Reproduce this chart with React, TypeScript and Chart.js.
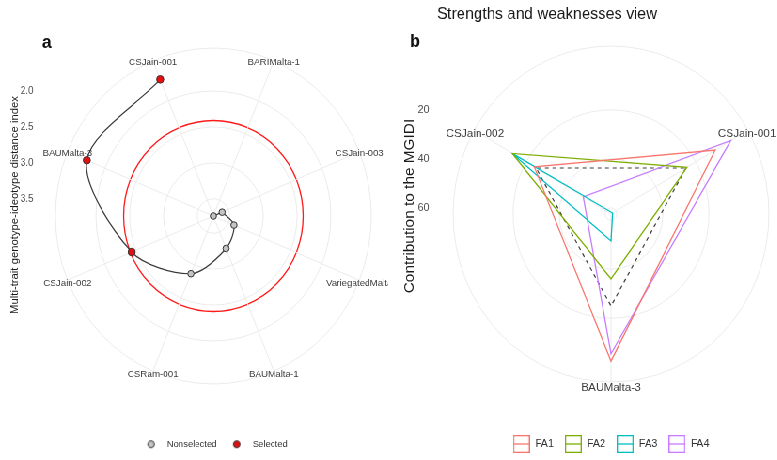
import React, { useEffect, useRef } from 'react';
import { Chart, registerables } from 'chart.js';
Chart.register(...registerables);

// ---------- layout constants ----------
const K = 0.94; // horizontal squeeze of the original figure
const STAGE_W = 827;
const H = 460;
const WA = 413;
const WB = 414;
const FONT = '"Liberation Sans", Arial, sans-serif';

// ---------- panel a data ----------
const genotypesA = ['BARIMalta-1', 'CSJain-003', 'VariegatedMalta', 'BAUMalta-1', 'CSRam-001', 'CSJain-002', 'BAUMalta-3', 'CSJain-001'];
const mgidiValues = [3.74, 3.6, 3.41, 3.25, 2.87, 2.43, 1.71, 1.68];
const selectedGenotypes = ['CSJain-002', 'BAUMalta-3', 'CSJain-001'];
const mgidiCutoff = 2.41;
const mgidiTicks = [2.0, 2.5, 3.0, 3.5];
const mgidiMin = 1.4;
const mgidiMax = 3.74;

// ---------- panel b data ----------
const genotypesB = ['CSJain-001', 'BAUMalta-3', 'CSJain-002'];
const factorNames = ['FA1', 'FA2', 'FA3', 'FA4'];
const fa1 = [10.3, 2.5, 24.1];
const fa2 = [24.5, 36.0, 13.1];
const fa3 = [61.7, 51.5, 13.1];
const fa4 = [2.5, 5.5, 48.6];
const equalContribution = [25, 25, 25];
const contribTicks = [20, 40, 60];
const contribMin = -6;
const contribMax = 62.5;

const factorColors = ['#F8766D', '#7CAE00', '#00BFC4', '#C77CFF'];
const GRID = '#ebebeb';
const SEL = '#e41010';
const NONSEL = '#c4c4c4';
const LINE = '#3a3a3a';

function keyBox(color: string) {
  const c = document.createElement('canvas');
  c.width = 18;
  c.height = 18;
  const g = c.getContext('2d')!;
  g.strokeStyle = color;
  g.lineWidth = 1.3;
  g.strokeRect(0.65, 0.65, 16.7, 16.7);
  g.beginPath();
  g.moveTo(0, 9);
  g.lineTo(18, 9);
  g.stroke();
  return c;
}

function keyDot(fill: string) {
  const c = document.createElement('canvas');
  c.width = 10;
  c.height = 10;
  const g = c.getContext('2d')!;
  g.beginPath();
  g.arc(5, 5, 3.5, 0, Math.PI * 2);
  g.fillStyle = fill;
  g.fill();
  g.strokeStyle = '#333';
  g.lineWidth = 1;
  g.stroke();
  return c;
}

export default function App() {
  const refA = useRef<HTMLCanvasElement>(null);
  const refB = useRef<HTMLCanvasElement>(null);

  useEffect(() => {
    Chart.defaults.font.family = FONT;
    const isSel = genotypesA.map((g) => selectedGenotypes.includes(g));
    const ptFill = isSel.map((s) => (s ? SEL : NONSEL));
    const ptRadius = isSel.map((s) => (s ? 3.8 : 3.3));

    const textA = {
      id: 'textA',
      afterDraw(chart: any) {
        const ctx = chart.ctx;
        const s = chart.scales.r;
        ctx.save();
        ctx.textBaseline = 'middle';
        ctx.textAlign = 'center';
        ctx.fillStyle = '#3d3d3d';
        ctx.font = `9.8px ${FONT}`;
        genotypesA.forEach((g, i) => {
          const p = s.getPointPosition(i, s.drawingArea);
          ctx.fillText(g, p.x, p.y + (p.y > s.yCenter ? 3 : 1.5));
        });
        ctx.textAlign = 'right';
        ctx.font = `10px ${FONT}`;
        ctx.fillStyle = '#4d4d4d';
        mgidiTicks.forEach((v) => {
          ctx.fillText(v.toFixed(1), 35.6, s.yCenter - s.getDistanceFromCenterForValue(v));
        });
        ctx.save();
        ctx.translate(16, 205);
        ctx.rotate(-Math.PI / 2);
        ctx.textAlign = 'center';
        ctx.fillStyle = '#1a1a1a';
        ctx.font = `11.3px ${FONT}`;
        ctx.fillText('Multi-trait genotype-ideotype distance index', 0, 0);
        ctx.restore();
        ctx.textAlign = 'left';
        ctx.fillStyle = '#111';
        ctx.font = `bold 18px ${FONT}`;
        ctx.fillText('a', 44.7, 43);
        ctx.restore();
      },
    };

    const textB = {
      id: 'textB',
      afterDraw(chart: any) {
        const ctx = chart.ctx;
        const s = chart.scales.r;
        ctx.save();
        ctx.textBaseline = 'middle';
        ctx.textAlign = 'center';
        ctx.fillStyle = '#3d3d3d';
        ctx.font = `11.8px ${FONT}`;
        genotypesB.forEach((g, i) => {
          const p = s.getPointPosition(i, 167);
          ctx.fillText(g, p.x, p.y + (p.y > s.yCenter ? 6.5 : 3));
        });
        ctx.textAlign = 'right';
        ctx.font = `11px ${FONT}`;
        ctx.fillStyle = '#4d4d4d';
        contribTicks.forEach((v) => {
          ctx.fillText(String(v), 43.7, s.yCenter - s.getDistanceFromCenterForValue(v));
        });
        ctx.save();
        ctx.translate(23.2, 206);
        ctx.rotate(-Math.PI / 2);
        ctx.textAlign = 'center';
        ctx.fillStyle = '#1a1a1a';
        ctx.font = `15.4px ${FONT}`;
        ctx.fillText('Contribution to the MGIDI', 0, 0);
        ctx.restore();
        ctx.textAlign = 'left';
        ctx.fillStyle = '#1a1a1a';
        ctx.font = `16.4px ${FONT}`;
        ctx.fillText('Strengths and weaknesses view', 51.9, 14);
        ctx.fillStyle = '#111';
        ctx.font = `bold 18px ${FONT}`;
        ctx.fillText('b', 23, 42);
        ctx.restore();
      },
    };

    const chartA = new Chart(refA.current!, {
      type: 'radar',
      data: {
        labels: genotypesA,
        datasets: [
          {
            label: 'MGIDI',
            data: mgidiValues.map((v, i) => (i === 0 ? null : v)),
            borderColor: LINE,
            borderWidth: 1.2,
            tension: 0.3,
            fill: false,
            spanGaps: false,
            pointBackgroundColor: ptFill,
            pointBorderColor: '#333',
            pointBorderWidth: 1,
            pointRadius: ptRadius,
          } as any,
          {
            label: 'MGIDI (centre)',
            data: mgidiValues.map((v, i) => (i <= 1 ? v : null)),
            borderColor: LINE,
            borderWidth: 1.2,
            fill: false,
            spanGaps: false,
            pointBackgroundColor: ptFill,
            pointBorderColor: '#333',
            pointBorderWidth: 1,
            pointRadius: mgidiValues.map((v, i) => (i === 0 ? ptRadius[0] : 0)),
          } as any,
        ],
      },
      options: {
        responsive: false,
        animation: false,
        devicePixelRatio: 1,
        events: [],
        layout: { padding: { left: 58.6, right: 17.4, top: 3, bottom: 1 } },
        plugins: {
          title: { display: false },
          tooltip: { enabled: false },
          legend: {
            position: 'bottom',
            labels: {
              usePointStyle: true,
              pointStyleWidth: 24.5,
              padding: 9,
              color: '#333',
              font: { size: 9.5 },
              generateLabels: () => [
                { text: 'Nonselected', pointStyle: keyDot(NONSEL), fontColor: '#333', lineWidth: 0, hidden: false, datasetIndex: 0 } as any,
                { text: 'Selected', pointStyle: keyDot(SEL), fontColor: '#333', lineWidth: 0, hidden: false, datasetIndex: 0 } as any,
              ],
            },
          },
        },
        scales: {
          r: {
            min: mgidiMin,
            max: mgidiMax,
            reverse: true,
            startAngle: 22.5,
            ticks: { display: false },
            pointLabels: { display: false },
            grid: {
              circular: true,
              color: (c: any) => (c.tick && c.tick.value === mgidiCutoff ? '#ff1a1a' : GRID),
              lineWidth: (c: any) => (c.tick && c.tick.value === mgidiCutoff ? 1.3 : 1),
            },
            angleLines: { color: GRID, lineWidth: 1 },
            afterBuildTicks: (s: any) => {
              s.ticks = [mgidiMax, mgidiMin, ...mgidiTicks, mgidiCutoff].map((v) => ({ value: v }));
            },
          } as any,
        },
      },
      plugins: [textA],
    });

    const boxes = factorColors.map(keyBox);
    const chartB = new Chart(refB.current!, {
      type: 'radar',
      data: {
        labels: genotypesB,
        datasets: [
          ...[fa1, fa2, fa3, fa4].map((d, k) => ({
            label: factorNames[k],
            data: d,
            borderColor: factorColors[k],
            borderWidth: 1.3,
            fill: false,
            pointRadius: 0,
            tension: 0,
          })),
          {
            label: 'Equal contribution',
            data: equalContribution,
            borderColor: '#3c3c3c',
            borderDash: [4, 4],
            borderWidth: 1.2,
            fill: false,
            pointRadius: 0,
          },
        ],
      },
      options: {
        responsive: false,
        animation: false,
        devicePixelRatio: 1,
        events: [],
        layout: { padding: { left: 68.5, right: 8.5, top: 3, bottom: 0.5 } },
        plugins: {
          title: { display: false },
          tooltip: { enabled: false },
          legend: {
            position: 'bottom',
            labels: {
              usePointStyle: true,
              pointStyleWidth: 18.5,
              padding: 11.6,
              color: '#333',
              font: { size: 11 },
              generateLabels: () =>
                factorNames.map((n, k) => ({ text: n, pointStyle: boxes[k], fontColor: '#333', lineWidth: 0, hidden: false, datasetIndex: k } as any)),
            },
          },
        },
        scales: {
          r: {
            min: contribMin,
            max: contribMax,
            reverse: true,
            startAngle: 60,
            ticks: { display: false },
            pointLabels: { display: false },
            grid: { circular: true, color: GRID, lineWidth: 1 },
            angleLines: { color: GRID, lineWidth: 1 },
            afterBuildTicks: (s: any) => {
              s.ticks = [contribMin, ...contribTicks].map((v) => ({ value: v }));
            },
          } as any,
        },
      },
      plugins: [textB],
    });

    return () => {
      chartA.destroy();
      chartB.destroy();
    };
  }, []);

  return (
    <div
      style={{
        position: 'fixed',
        left: 0,
        top: 0,
        width: STAGE_W,
        height: H,
        background: '#fff',
        transform: `scaleX(${K})`,
        transformOrigin: '0 0',
      }}
    >
      <canvas ref={refA} width={WA} height={H} style={{ position: 'absolute', left: 0, top: 0 }} />
      <canvas ref={refB} width={WB} height={H} style={{ position: 'absolute', left: WA, top: 0 }} />
    </div>
  );
}
